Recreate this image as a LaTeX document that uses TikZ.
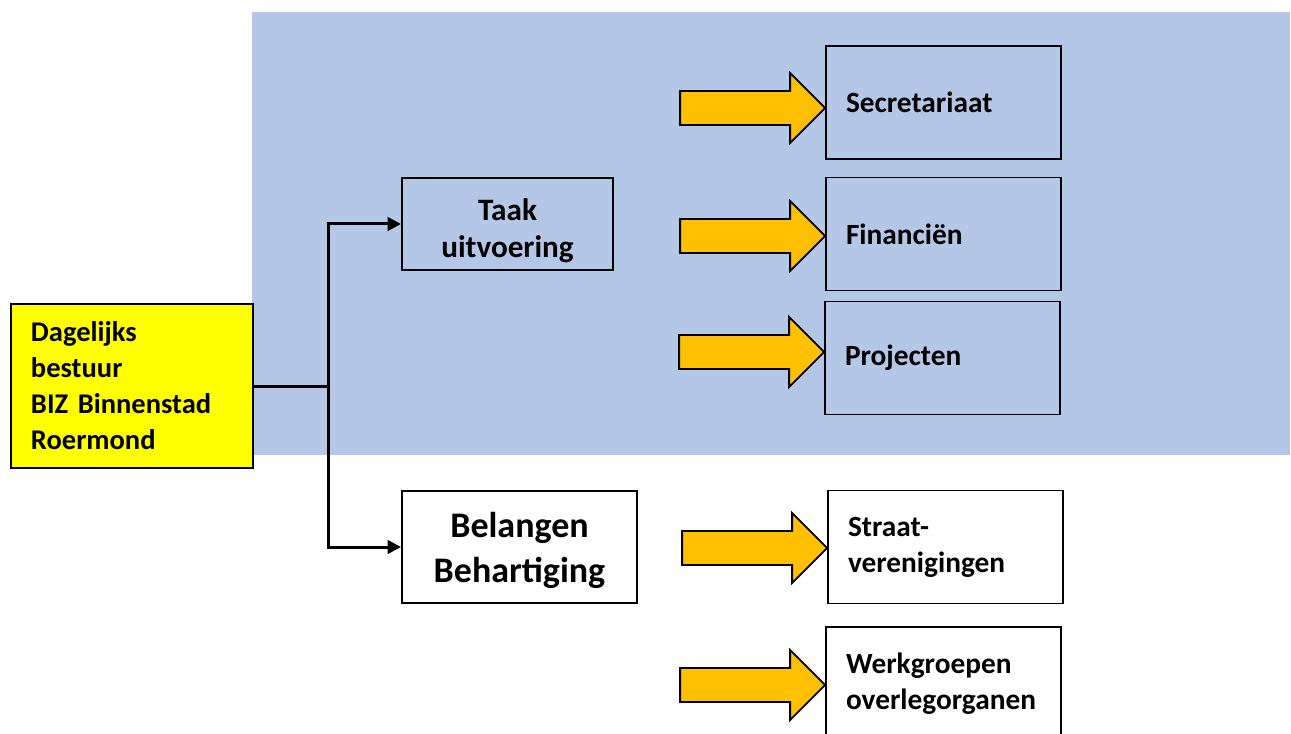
\documentclass[tikz,border=0pt]{standalone}
\usepackage{fontspec}
\setmainfont{Carlito}
\usetikzlibrary{arrows.meta}

\definecolor{lichtblauw}{RGB}{180,199,231}
\definecolor{oranje}{RGB}{255,192,0}
\definecolor{geel}{RGB}{255,255,0}

\tikzset{
  vak/.style={draw=black, line width=1.4pt, rectangle, inner ysep=0pt,
    inner xsep=15pt, minimum height=84.75pt, text width=146.25pt, align=left,
    font=\bfseries\fontsize{22}{27}\selectfont},
  hoofdvak/.style={vak, fill=geel, minimum height=123pt, text width=151.5pt,
    font=\bfseries\fontsize{21.4}{27}\selectfont},
  middenvak/.style={draw=black, line width=1.4pt, rectangle, inner sep=0pt,
    align=center},
  lijn/.style={line width=2.25pt},
  pijlvorm/.style={fill=oranje, draw=black, line width=1.4pt, line join=miter}
}

\newcommand{\blokpijl}[1]{%
  \filldraw[pijlvorm] (#1) -- ++(-35,-35) -- ++(0,18) -- ++(-110,0)
    -- ++(0,34) -- ++(110,0) -- ++(0,18) -- cycle;}

\begin{document}
\begin{tikzpicture}[x=0.75pt, y=-0.75pt]

\useasboundingbox (0,0) rectangle (1291,734);
\fill[lichtblauw] (252,12) rectangle (1290,455);

\node[hoofdvak] (bestuur) at (132,386)
  {Dagelijks\\bestuur\\BIZ Binnenstad\\Roermond};

\node[middenvak, minimum width=158.25pt, minimum height=69pt,
  font=\bfseries\fontsize{23.4}{28}\selectfont] (taak) at (507.5,224)
  {\rule{0pt}{26pt}Taak\\uitvoering};
\node[middenvak, fill=white, minimum width=176.25pt, minimum height=84pt,
  font=\bfseries\fontsize{27}{34}\selectfont] (belang) at (519.5,547)
  {\rule{0pt}{24pt}Belangen\\Behartiging};

\node[vak] (secr)   at (943.5,102.5) {Secretariaat};
\node[vak] (fin)    at (943.5,234)   {Financiën};
\node[vak] (proj)   at (942.5,358)   {Projecten};
\node[vak, fill=white] (straat) at (945.5,547) {Straat-\\verenigingen};
\node[vak, fill=white] (werk)   at (943.5,683.5) {Werkgroepen\\overlegorganen};

\coordinate (splits) at (328,386);
\draw[lijn] (bestuur.east) -- (splits);
\draw[lijn, -{Triangle[length=10pt, width=10pt]}] (splits) |- (taak.west);
\draw[lijn, -{Triangle[length=10pt, width=10pt]}] (splits) |- (belang.west);

\coordinate (tipsecr)   at (secr.west |- 0,108);
\coordinate (tipfin)    at (fin.west |- 0,236);
\coordinate (tipproj)   at (proj.west |- 0,352);
\coordinate (tipstraat) at (straat.west |- 0,548);
\coordinate (tipwerk)   at (werk.west |- 0,685);

\blokpijl{tipsecr}
\blokpijl{tipfin}
\blokpijl{tipproj}
\blokpijl{tipstraat}
\blokpijl{tipwerk}

\end{tikzpicture}
\end{document}
